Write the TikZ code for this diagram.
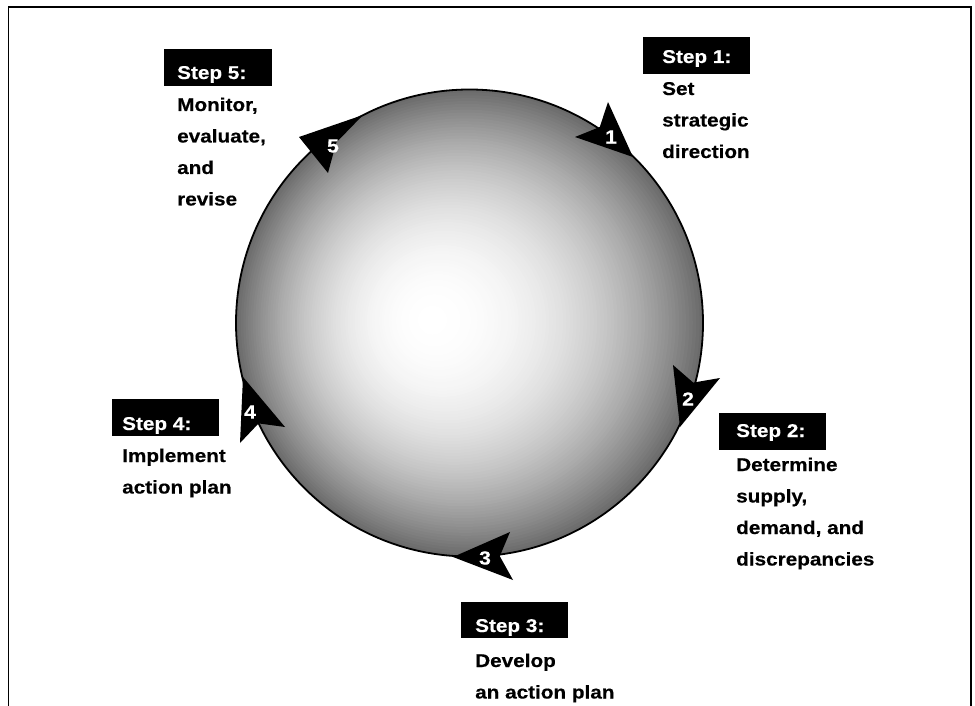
\documentclass[tikz,border=0pt]{standalone}
\usepackage{fontspec}
\newfontfamily\labfont{Liberation Sans Bold}[FakeStretch=1.12, FakeBold=0.4]
\usetikzlibrary{calc}
\tikzset{
  stepbox/.style={fill=black, minimum width=107pt, minimum height=37pt, inner sep=0pt},
  steptxt/.style={anchor=base west, inner sep=0pt, text=white, font=\labfont\fontsize{18.5}{31.5}\selectfont},
  bodytxt/.style={anchor=base west, inner sep=0pt, text=black, font=\labfont\fontsize{18.5}{31.5}\selectfont},
  numtxt/.style={inner sep=0pt, text=white, font=\labfont\fontsize{19}{22}\selectfont},
  headfill/.style={fill=black}
}
\begin{document}
\begin{tikzpicture}[x=1pt,y=-1pt]
\useasboundingbox (0,0) rectangle (975,706);
% frame
\draw[line width=1.5pt] (8.5,706) -- (8.5,7) -- (971,7) -- (971,706);
% disc shading (focal gradient built from rings)
\foreach \k in {0,...,79}{
  \pgfmathsetmacro{\s}{1-\k/80}
  \pgfmathsetmacro{\cx}{430+\s*39.5}
  \pgfmathsetmacro{\cy}{320+\s*3}
  \pgfmathsetmacro{\rr}{233.5*\s}
  \pgfmathsetmacro{\g}{58*pow(\s,2.2)}
  \fill[black!\g] (\cx,\cy) circle[radius=\rr];
}
\node[circle, draw, line width=1.8pt, minimum size=467pt, inner sep=0pt] (disc) at (469.5,323) {};
% arrowheads
\coordinate (a1t) at (633,157); \coordinate (a1u) at (608,102); \coordinate (a1v) at (575,137);
\coordinate (a2t) at (680,427); \coordinate (a2u) at (673,365); \coordinate (a2v) at (720,378);
\coordinate (a3t) at (453,557); \coordinate (a3u) at (510,532); \coordinate (a3v) at (513,580);
\coordinate (a4t) at (243,377); \coordinate (a4u) at (285,427); \coordinate (a4v) at (240,443);
\coordinate (a5t) at (299,137); \coordinate (a5u) at (363,115); \coordinate (a5v) at (328,173);
\foreach \i in {1,...,5}{
  \fill[headfill] (a\i t) -- (a\i u) -- ($($(a\i u)!0.5!(a\i v)$)!0.2!(a\i t)$) -- (a\i v) -- cycle;
}
% numbers
\node[numtxt] (n1) at (611,137) {1};
\node[numtxt] (n2) at (688,399) {2};
\node[numtxt] (n3) at (485,558) {3};
\node[numtxt] (n4) at (250,412) {4};
\node[numtxt] (n5) at (333,146) {5};
% step boxes
\node[stepbox] (b1) at (696.5,55.5) {};
\node[stepbox] (b2) at (772.5,431.5) {};
\node[stepbox, minimum height=36pt] (b3) at (514.5,620) {};
\node[stepbox] (b4) at (165.5,417.5) {};
\node[stepbox, minimum width=108pt] (b5) at (218,67.5) {};
\node[steptxt] (s1) at (662,63) {Step 1:};
\node[steptxt] (s2) at (736,437) {Step 2:};
\node[steptxt] (s3) at (475,632) {Step 3:};
\node[steptxt] (s4) at (122,430) {Step 4:};
\node[steptxt] (s5) at (177,79) {Step 5:};
% body texts
\node[bodytxt] (t1) at (662,95) {\vtop{\hbox{Set}\hbox{strategic}\hbox{direction}}};
\node[bodytxt] (t2) at (736,471) {\vtop{\hbox{Determine}\hbox{supply,}\hbox{demand, and}\hbox{discrepancies}}};
\node[bodytxt] (t3) at (475,667) {\vtop{\hbox{Develop}\hbox{an action plan}}};
\node[bodytxt] (t4) at (122,462) {\vtop{\hbox{Implement}\hbox{action plan}}};
\node[bodytxt] (t5) at (177,111) {\vtop{\hbox{Monitor,}\hbox{evaluate,}\hbox{and}\hbox{revise}}};
\end{tikzpicture}
\end{document}
